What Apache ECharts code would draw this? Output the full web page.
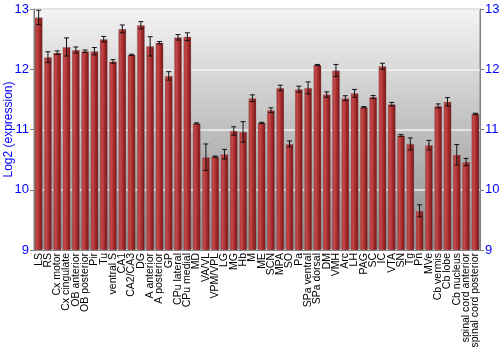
<!DOCTYPE html>
<html><head><meta charset="utf-8">
<script src="https://cdn.jsdelivr.net/npm/echarts@6/dist/echarts.min.js"></script>
<style>html,body{margin:0;padding:0;background:#fff}#c{width:500px;height:350px}</style>
</head><body><div id="c"></div>
<script>
const categories = ["LS","RS","Cx motor","Cx cingulate","OB anterior","OB posterior","Pir","Tu","ventral S","CA1","CA2/CA3","DG","A anterior","A posterior","GP","CPu lateral","CPu medial","MD","VA/VL","VPM/VPL","LG","MG","Hb","M","ME","SCN","MPA","SO","Pa","SPa ventral","SPa dorsal","DM","VMH","Arc","LH","PAG","SC","IC","VTA","SN","Tg","Pn","MVe","Cb vermis","Cb lobe","Cb nucleus","spinal cord anterior","spinal cord posterior"];
const values = [12.86,12.20,12.275,12.37,12.32,12.30,12.30,12.50,12.13,12.67,12.24,12.73,12.38,12.44,11.89,12.53,12.54,11.10,10.54,10.55,10.59,10.975,10.96,11.52,11.11,11.32,11.69,10.76,11.67,11.69,12.07,11.58,11.98,11.52,11.60,11.37,11.54,12.05,11.42,10.90,10.76,9.65,10.74,11.39,11.46,10.58,10.46,11.26];
const errors = [0.12,0.09,0.03,0.15,0.05,0.02,0.06,0.045,0.03,0.065,0.01,0.06,0.16,0.02,0.07,0.045,0.065,0.01,0.22,0.01,0.08,0.07,0.17,0.055,0.01,0.04,0.045,0.05,0.05,0.1,0.01,0.045,0.1,0.04,0.065,0.01,0.025,0.05,0.03,0.015,0.1,0.1,0.08,0.035,0.07,0.17,0.06,0.01];
const yTicks = [9,10,11,12,13];

const chart = echarts.init(document.getElementById('c'), null, {renderer:'canvas'});
const barColor = new echarts.graphic.LinearGradient(0,0,1,0,[
  {offset:0,color:'#a83232'},{offset:0.3,color:'#c24848'},{offset:0.6,color:'#a52c2c'},{offset:1,color:'#6e1212'}]);
const errData = values.map((v,i)=>[i, v-errors[i], v+errors[i]]);
chart.setOption({
  animation:false,
  grid:{left:34,right:20,top:9,bottom:100,show:true,borderColor:'#808080',borderWidth:1,
    outerBoundsMode:'none',containLabel:false,
    backgroundColor:new echarts.graphic.LinearGradient(0,0,0,1,[{offset:0,color:'#f4f4f4'},{offset:1,color:'#8a8a8a'}])},
  xAxis:{type:'category',data:categories,
    axisLine:{show:true,lineStyle:{color:'#808080'}},axisTick:{show:false},
    axisLabel:{rotate:90,interval:0,fontSize:10.5,color:'#000',fontFamily:'Liberation Sans',margin:3}},
  yAxis:[{type:'value',min:9,max:13,interval:1,
    axisLine:{show:true,lineStyle:{color:'#808080'}},axisTick:{show:true,length:4,lineStyle:{color:'#808080'}},
    axisLabel:{color:'#0000ff',fontSize:13,fontFamily:'Liberation Sans',margin:5,
      formatter:v=>yTicks.includes(v)?String(v):''},
    splitLine:{show:true,lineStyle:{color:'#f2f2f2',width:1.5}},
    name:'Log2 (expression)',nameLocation:'middle',nameGap:19,nameMoveOverlap:false,
    nameTextStyle:{color:'#0000ff',fontSize:12,fontFamily:'Liberation Sans'}},
   {type:'value',min:9,max:13,interval:1,position:'right',
    axisLine:{show:true,lineStyle:{color:'#808080'}},axisTick:{show:true,length:4,lineStyle:{color:'#808080'}},
    axisLabel:{color:'#0000ff',fontSize:13,fontFamily:'Liberation Sans',margin:5},splitLine:{show:false}}],
  series:[
    {type:'bar',data:values,barCategoryGap:'16%',
      itemStyle:{color:barColor,borderColor:'rgba(150,150,150,0.6)',borderWidth:0.5}},
    {type:'custom',data:errData,z:5,
      renderItem:function(params,api){
        const x=api.coord([api.value(0),api.value(1)])[0];
        const lo=api.coord([api.value(0),api.value(1)])[1];
        const hi=api.coord([api.value(0),api.value(2)])[1];
        const w=2.5;
        const st={stroke:'#111',lineWidth:1};
        return {type:'group',children:[
          {type:'line',shape:{x1:x,y1:lo,x2:x,y2:hi},style:st},
          {type:'line',shape:{x1:x-w,y1:lo,x2:x+w,y2:lo},style:st},
          {type:'line',shape:{x1:x-w,y1:hi,x2:x+w,y2:hi},style:st}]};
      }}
  ]
});
</script></body></html>
